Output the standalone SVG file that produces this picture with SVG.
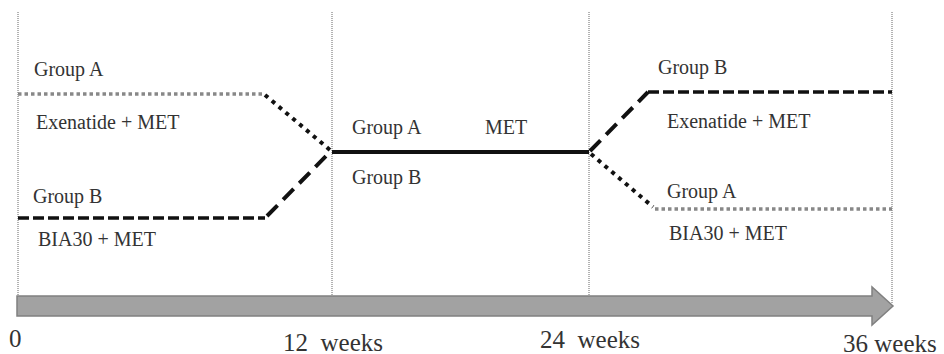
<svg xmlns="http://www.w3.org/2000/svg" width="944" height="354" viewBox="0 0 944 354" font-family="'Liberation Serif', 'DejaVu Serif', serif">
<style>
text{font-family:'Liberation Serif','DejaVu Serif',serif;fill:#333;}
.lbl{font-size:20px;}
.ax{font-size:25px;white-space:pre;}
.grid{stroke:#666;stroke-width:1;stroke-dasharray:1 1;fill:none;}
.dotg{stroke:#888;stroke-width:3.5;stroke-dasharray:3.5 3;fill:none;}
.dotk{stroke:#111;stroke-width:4;stroke-dasharray:4 5;fill:none;}
.dash{stroke:#111;stroke-width:3.5;stroke-dasharray:11 4;fill:none;}
.dashd{stroke:#111;stroke-width:4;stroke-dasharray:15 8;fill:none;}
.solid{stroke:#111;stroke-width:4;fill:none;}
</style>
<rect width="944" height="354" fill="#fff"/>
<g id="gridlines">
<line class="grid" x1="18" y1="12" x2="18" y2="296"/>
<line class="grid" x1="332" y1="12" x2="332" y2="296"/>
<line class="grid" x1="589" y1="12" x2="589" y2="296"/>
<line class="grid" x1="892" y1="12" x2="892" y2="304"/>
</g>
<g id="timeline">
<polygon points="17,296 872,296 872,287 893,306 872,325 872,316 17,316" fill="#a2a2a2" stroke="#808080" stroke-width="1.5"/>
</g>
<g id="connectors">
<line class="dotg" x1="18" y1="94" x2="265" y2="94"/>
<line class="dotk" x1="265" y1="95" x2="330" y2="150"/>
<line class="dash" x1="18" y1="218" x2="265" y2="218"/>
<line class="dashd" x1="267" y1="216" x2="331" y2="151"/>
<line class="solid" x1="332" y1="152" x2="589" y2="152"/>
<line class="dashd" x1="590" y1="151" x2="648" y2="92"/>
<line class="dash" x1="648" y1="92" x2="892" y2="92"/>
<line class="dotk" x1="591" y1="154" x2="653" y2="207"/>
<line class="dotg" x1="655" y1="209" x2="892" y2="209"/>
</g>
<g id="phase1">
<text class="lbl" x="34" y="76">Group A</text>
<text class="lbl" x="36" y="129">Exenatide + MET</text>
<text class="lbl" x="33" y="203">Group B</text>
<text class="lbl" x="38" y="246">BIA30 + MET</text>
</g>
<g id="phase2">
<text class="lbl" x="352" y="134">Group A</text>
<text class="lbl" x="485" y="134">MET</text>
<text class="lbl" x="352" y="184">Group B</text>
</g>
<g id="phase3">
<text class="lbl" x="658" y="74">Group B</text>
<text class="lbl" x="667" y="128">Exenatide + MET</text>
<text class="lbl" x="667" y="198">Group A</text>
<text class="lbl" x="669" y="240">BIA30 + MET</text>
</g>
<g id="axis-labels">
<text class="ax" x="9" y="347">0</text>
<text class="ax" x="283" y="351">12  weeks</text>
<text class="ax" x="540" y="348">24  weeks</text>
<text class="ax" x="843" y="352">36 weeks</text>
</g>
</svg>
